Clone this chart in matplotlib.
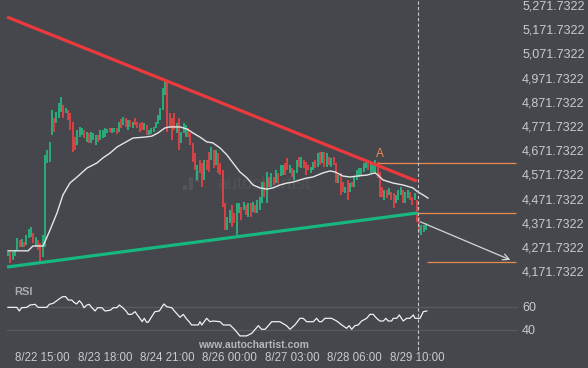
import numpy as np
import matplotlib.pyplot as plt
from matplotlib.patches import Rectangle

plt.rcParams['font.family'] = ['Liberation Sans', 'DejaVu Sans']

# hourly candles, bar 0 = 8/22 00:00
opens = [4235, 4251, 4218, 4235, 4259, 4301, 4272, 4292, 4280, 4309,
         4313, 4330, 4272, 4301, 4288, 4230, 4272, 4619, 4623, 4735,
         4805, 4784, 4805, 4830, 4859, 4825, 4838, 4825, 4788, 4726,
         4693, 4726, 4735, 4755, 4706, 4743, 4702, 4714, 4693, 4735,
         4714, 4722, 4726, 4743, 4763, 4743, 4747, 4763, 4747, 4801,
         4776, 4805, 4755, 4797, 4763, 4805, 4788, 4784, 4788, 4755,
         4776, 4735, 4739, 4747, 4763, 4780, 4797, 4838, 4900, 4954,
         4825, 4805, 4825, 4743, 4805, 4702, 4743, 4726, 4763, 4743,
         4702, 4660, 4549, 4631, 4619, 4549, 4631, 4664, 4631, 4673,
         4611, 4660, 4619, 4590, 4454, 4342, 4371, 4445, 4412, 4321,
         4412, 4437, 4425, 4445, 4396, 4454, 4416, 4445, 4412, 4425,
         4454, 4540, 4454, 4561, 4520, 4561, 4536, 4578, 4565, 4569,
         4619, 4640, 4578, 4598, 4549, 4578, 4644, 4598, 4631, 4623,
         4611, 4578, 4590, 4631, 4602, 4664, 4619, 4664, 4602, 4644,
         4602, 4644, 4619, 4536, 4578, 4540, 4495, 4549, 4499, 4540,
         4520, 4549, 4561, 4569, 4582, 4598, 4619, 4578, 4582, 4578,
         4623, 4582, 4520, 4466, 4507, 4487, 4499, 4495, 4454, 4466,
         4487, 4507, 4454, 4474, 4499, 4478, 4466, 4466, 4396, 4321,
         4334, 4342]
closes = [4251, 4206, 4251, 4259, 4309, 4272, 4305, 4272, 4321, 4346,
          4354, 4288, 4313, 4259, 4210, 4321, 4652, 4673, 4706, 4838,
          4747, 4830, 4867, 4892, 4805, 4846, 4797, 4755, 4664, 4673,
          4755, 4768, 4763, 4722, 4747, 4702, 4747, 4743, 4735, 4706,
          4755, 4755, 4763, 4759, 4747, 4763, 4763, 4739, 4788, 4763,
          4809, 4768, 4797, 4768, 4788, 4776, 4763, 4747, 4755, 4784,
          4735, 4755, 4763, 4768, 4788, 4817, 4846, 4929, 4954, 4747,
          4763, 4714, 4755, 4784, 4673, 4747, 4784, 4776, 4726, 4693,
          4623, 4590, 4611, 4578, 4520, 4631, 4590, 4582, 4685, 4598,
          4673, 4578, 4569, 4437, 4342, 4396, 4425, 4354, 4371, 4454,
          4454, 4383, 4458, 4404, 4454, 4396, 4458, 4412, 4466, 4478,
          4540, 4478, 4582, 4520, 4578, 4528, 4590, 4536, 4611, 4611,
          4569, 4590, 4611, 4561, 4590, 4631, 4602, 4644, 4598, 4569,
          4590, 4602, 4623, 4598, 4660, 4611, 4664, 4602, 4660, 4611,
          4640, 4611, 4536, 4569, 4487, 4499, 4520, 4466, 4536, 4520,
          4561, 4590, 4598, 4598, 4619, 4631, 4590, 4619, 4623, 4631,
          4557, 4478, 4478, 4507, 4474, 4516, 4466, 4433, 4487, 4507,
          4520, 4454, 4499, 4507, 4466, 4445, 4495, 4375, 4330, 4363,
          4363, 4371]

ma_pts = [(0, 4256), (8.7, 4256), (10.8, 4276), (15.2, 4276), (18.2, 4342),
          (21.2, 4412), (23.8, 4487), (26.8, 4536), (29.9, 4561), (34.2, 4598),
          (38.5, 4619), (41.1, 4640), (44.2, 4660), (47.2, 4685), (54.1, 4722),
          (59.3, 4726), (62.3, 4730), (64.9, 4743), (68.0, 4764), (70.1, 4768),
          (74.5, 4768), (77.5, 4759), (80.1, 4743), (83.1, 4726), (86.1, 4706),
          (88.7, 4702), (91.8, 4681), (94.8, 4652), (97.4, 4619), (100.4, 4582),
          (103.5, 4557), (106.1, 4528), (109.1, 4516), (112.1, 4511), (114.7, 4516),
          (117.7, 4528), (120.8, 4536), (123.4, 4540), (126.4, 4549), (129.4, 4557),
          (132.0, 4561), (136.4, 4578), (139.4, 4586), (141.6, 4582), (145.0, 4565),
          (148.1, 4561), (151.1, 4565), (155.4, 4569), (158.9, 4578), (160.2, 4569),
          (162.3, 4549), (166.7, 4536), (171.0, 4528), (175.3, 4516), (177.5, 4499),
          (179.7, 4487), (181.8, 4474)]

rsi_pts = [(0, 59.4), (3.8, 59.4), (4.9, 56.3), (5.9, 59.1), (8.1, 59.4), (9.5, 61.4),
           (11.7, 62.0), (13.1, 59.4), (16.8, 59.4), (17.9, 62.0), (19.6, 62.9), (21.1, 65.1),
           (22.5, 67.1), (23.7, 68.6), (25.0, 68.6), (26.1, 65.7), (27.6, 65.7), (28.6, 63.7),
           (29.7, 62.3), (30.9, 65.1), (31.9, 62.9), (32.9, 59.1), (34.1, 61.4), (35.2, 62.0),
           (36.2, 59.4), (37.7, 56.3), (38.8, 59.1), (40.6, 59.1), (42.0, 56.3), (44.2, 56.9),
           (45.6, 59.1), (47.1, 59.1), (48.2, 61.4), (49.7, 59.1), (51.1, 56.3), (52.1, 53.4),
           (53.5, 53.4), (55.0, 55.7), (56.0, 52.9), (57.1, 50.0), (58.1, 47.1), (59.0, 50.0),
           (60.0, 46.6), (60.7, 46.6), (62.2, 51.4), (63.6, 55.7), (65.5, 56.3), (67.5, 62.3),
           (68.7, 60.0), (70.9, 59.1), (72.3, 55.7), (74.5, 50.9), (75.9, 53.4), (77.1, 50.0),
           (78.4, 47.1), (79.5, 44.3), (82.4, 44.3), (83.1, 47.1), (83.9, 44.3), (86.0, 50.0),
           (87.4, 47.1), (88.9, 47.7), (91.8, 47.1), (93.2, 44.3), (96.1, 44.3), (98.3, 40.0),
           (100.4, 34.9), (103.3, 34.9), (105.5, 37.1), (108.4, 43.7), (109.8, 40.6), (111.3, 40.6),
           (112.7, 43.7), (114.2, 47.1), (117.7, 47.1), (120.6, 43.7), (122.1, 40.6), (124.2, 44.3),
           (126.4, 50.0), (127.8, 50.0), (129.3, 47.1), (132.2, 47.1), (133.6, 50.0), (134.8, 47.1),
           (135.8, 47.1), (137.2, 50.0), (140.1, 50.0), (142.3, 47.7), (144.5, 44.3), (146.6, 41.4),
           (147.7, 43.7), (148.8, 40.6), (150.2, 43.7), (151.6, 44.3), (153.1, 47.7), (155.3, 50.0),
           (156.7, 53.4), (158.1, 53.4), (159.6, 50.0), (161.0, 47.7), (162.5, 47.7), (163.6, 50.0),
           (164.6, 47.7), (166.1, 47.7), (166.8, 50.0), (168.3, 50.0), (169.4, 52.9), (171.1, 47.7),
           (172.6, 50.0), (174.0, 50.0), (175.5, 52.9), (176.2, 50.0), (178.4, 50.0), (179.8, 55.7),
           (181.3, 56.3)]

# trend lines (bar, price)
resist_x, resist_y = [-0.4, 177], [5222, 4544]
support_x, support_y = [-0.4, 177], [4189, 4412]
# pattern levels
level_a, level_a_start = 4617, 160
level_brk, level_brk_start = 4411, 177
level_tgt, level_tgt_start = 4211, 181.4
arrow_from, arrow_to = (177.5, 4380), (218.6, 4214)
level_end = 220
now_bar = 177

date_bars = [15, 42, 69, 96, 123, 150, 177]
date_labels = ['8/22 15:00', '8/23 18:00', '8/24 21:00', '8/26 00:00',
               '8/27 03:00', '8/28 06:00', '8/29 10:00']
price_ticks = [4171.7322 + 100 * k for k in range(12)]

bg = '#45474c'
up_c, dn_c = '#22c98a', '#ff4343'
txt_c = '#c9cacc'
orange = '#ec8a4e'

fig = plt.figure(figsize=(5.88, 3.68), dpi=100, facecolor=bg)
ax = fig.add_axes([0, 86 / 368, 518 / 588, 282 / 368], facecolor=bg)
axr = fig.add_axes([0, 23 / 368, 518 / 588, 60 / 368], facecolor=bg)

xlim = (-3.46, 220.8)

# watermark
ax.text(0.419, 0.344, 'autochartist', transform=ax.transAxes, fontsize=13,
        color='#505257', va='center', ha='left', zorder=0)
for x0, y0, w, h in [(183, 185, 4, 5), (189, 177, 4, 13), (195, 171, 4, 11)]:
    ax.add_patch(Rectangle((x0 / 518, 1 - (y0 + h) / 282), w / 518, h / 282,
                           transform=ax.transAxes, color='#525459', lw=0, zorder=0))

o = np.array(opens)
c = np.array(closes)
idx = np.arange(len(o))
cols = np.where(c >= o, up_c, dn_c)
ax.vlines(idx, np.minimum(o, c), np.maximum(o, c), colors=cols, lw=1.1, zorder=2)

mx, my = zip(*ma_pts)
ax.plot(mx, my, color='#e6e6e6', lw=1.0, zorder=3)

ax.plot(resist_x, resist_y, color='#ea3a3e', lw=2.3, solid_capstyle='butt', zorder=4)
ax.plot(support_x, support_y, color='#17b77f', lw=2.3, solid_capstyle='butt', zorder=4)

ax.hlines(level_a, level_a_start, level_end, color=orange, lw=0.9, zorder=3)
ax.hlines(level_brk, level_brk_start, level_end, color=orange, lw=0.9, zorder=3)
ax.hlines(level_tgt, level_tgt_start, level_end, color=orange, lw=0.9, zorder=3)
ax.text(161, 4630, 'A', color=orange, fontsize=8.5, ha='center', va='bottom')
ax.annotate('', xy=arrow_to, xytext=arrow_from,
            arrowprops=dict(arrowstyle='->', color='#d6d6d6', lw=0.9, mutation_scale=11))

ax.axvline(now_bar + 0.3, color='#c8c8c8', lw=0.8, ls=(0, (3, 2)), zorder=5)

ax.set_xlim(*xlim)
ax.set_ylim(5292.4, 5292.4 - 4.132 * 282)
ax.set_ylim(5292.4 - 4.132 * 282, 5292.4)
ax.yaxis.tick_right()
ax.set_yticks(price_ticks)
ax.set_yticklabels(['{:,.4f}'.format(v) for v in price_ticks])
ax.tick_params(axis='y', length=0, pad=3, labelsize=9, labelcolor=txt_c)
ax.set_xticks([])
for s in ax.spines.values():
    s.set_visible(False)

# RSI panel
rx, ry = zip(*rsi_pts)
axr.axhline(60, color='#595b60', lw=0.9, xmin=7 / 518)
axr.axhline(40, color='#595b60', lw=0.9, xmin=7 / 518)
axr.plot(rx, ry, color='#f0f0f0', lw=0.9)
axr.axvline(now_bar + 0.3, ymin=-0.09, ymax=1.05, clip_on=False,
            color='#c8c8c8', lw=0.8, ls=(0, (3, 2)))
axr.text(0.027, 0.97, 'RSI', transform=axr.transAxes, fontsize=8, fontweight='bold',
         color='#a8acb2', va='top', ha='left')
axr.set_xlim(*xlim)
axr.set_ylim(27.1, 78.6)
axr.yaxis.tick_right()
axr.set_yticks([40, 60])
axr.tick_params(axis='y', length=0, pad=3, labelsize=9, labelcolor=txt_c)
axr.set_xticks(date_bars)
axr.set_xticklabels(date_labels)
axr.tick_params(axis='x', length=0, pad=5, labelsize=8.3, labelcolor=txt_c)
for s in axr.spines.values():
    s.set_visible(False)

fig.text(253 / 588, 1 - 345 / 368, 'www.autochartist.com', fontsize=7.5, fontweight='bold',
         color='#b4b6b9', ha='center', va='center')

fig.savefig('out.png', dpi=100, facecolor=bg)
